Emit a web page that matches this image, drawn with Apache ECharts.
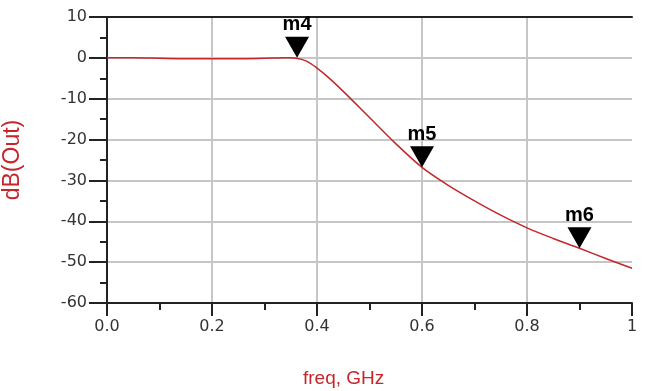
<!DOCTYPE html>
<html>
<head>
<meta charset="utf-8">
<script src="https://cdn.jsdelivr.net/npm/echarts@6/dist/echarts.min.js"></script>
<style>
  html, body { margin: 0; padding: 0; background: #fff; }
  #chart { width: 645px; height: 391px; }
</style>
</head>
<body>
<div id="chart"></div>
<script>
// frequency (GHz) and dB(Out)
const freq = [0.0, 0.05, 0.1, 0.15, 0.2, 0.25, 0.3, 0.34, 0.36, 0.38, 0.4, 0.42, 0.45, 0.5, 0.55, 0.6, 0.65, 0.7, 0.75, 0.8, 0.85, 0.9, 0.95, 1.0];
const dbOut = [0.0, 0.0, -0.1, -0.2, -0.2, -0.2, -0.1, 0.0, -0.1, -0.8, -2.5, -4.6, -8.2, -14.6, -21.0, -26.8, -31.2, -35.0, -38.5, -41.6, -44.2, -46.6, -49.1, -51.5];

// markers
const markerNames = ["m4", "m5", "m6"];
const markerFreq = [0.362, 0.6, 0.9];
const markerDb = [0.0, -26.8, -46.6];

const yTicks = [10, 0, -10, -20, -30, -40, -50, -60];

const chart = echarts.init(document.getElementById("chart"));

const red = "#c4262b";
const gridGray = "#c6c6c6";
const labelFont = "DejaVu Sans";

const option = {
  animation: false,
  backgroundColor: "#fff",
  title: {
    text: "freq, GHz",
    left: 298,
    top: 364,
    textStyle: { color: red, fontSize: 19, fontWeight: "normal", fontFamily: "Liberation Sans" },
  },
  grid: { left: 107, right: 13, top: 17, bottom: 88, outerBoundsMode: "none" },
  xAxis: [
    {
      type: "value",
      min: 0,
      max: 1,
      interval: 0.2,
      position: "bottom",
      axisLine: { show: true, onZero: false, lineStyle: { color: "#222", width: 2 } },
      axisTick: { show: true, length: 13, lineStyle: { color: "#222", width: 2 } },
      minorTick: { show: true, splitNumber: 2, length: 7, lineStyle: { color: "#222", width: 2 } },
      splitLine: { show: true, showMaxLine: false, lineStyle: { color: gridGray, width: 2 } },
      axisLabel: {
        margin: 16,
        color: "#333",
        fontSize: 16,
        fontFamily: labelFont,
        formatter: (v) => (v === 1 ? "1" : v.toFixed(1)),
      },
    },
    {
      type: "value",
      min: 0,
      max: 1,
      position: "top",
      axisLine: { show: true, onZero: false, lineStyle: { color: "#222", width: 2 } },
      axisTick: { show: false },
      axisLabel: { show: false },
      splitLine: { show: false },
    },
  ],
  yAxis: {
    type: "value",
    min: -60,
    max: 10,
    interval: 10,
    name: "dB(Out)",
    nameLocation: "middle",
    nameGap: 83,
    nameTextStyle: { color: red, fontSize: 23, fontFamily: "Liberation Sans" },
    axisLine: { show: true, onZero: false, lineStyle: { color: "#222", width: 2 } },
    axisTick: { show: true, length: 18, lineStyle: { color: "#222", width: 2 } },
    minorTick: { show: true, splitNumber: 2, length: 7, lineStyle: { color: "#222", width: 2 } },
    splitLine: {
      show: true,
      lineStyle: { color: gridGray, width: 2 },
    },
    axisLabel: {
      margin: 20,
      color: "#333",
      fontSize: 16,
      fontFamily: labelFont,
      customValues: yTicks,
    },
  },
  series: [
    {
      name: "dB(Out)",
      type: "line",
      data: freq.map((f, i) => [f, dbOut[i]]),
      smooth: 0.3,
      symbol: "none",
      lineStyle: { color: red, width: 1.5 },
      markPoint: {
        symbol: "triangle",
        symbolSize: [24, 21],
        symbolRotate: 180,
        symbolOffset: [0, "-50%"],
        itemStyle: { color: "#000" },
        label: {
          show: true,
          position: "top",
          distance: 2,
          color: "#000",
          fontSize: 20,
          fontWeight: "bold",
          fontFamily: "Liberation Sans",
          formatter: (p) => p.name,
        },
        data: markerNames.map((n, i) => ({ name: n, coord: [markerFreq[i], markerDb[i]] })),
      },
    },
  ],
};

chart.setOption(option);
</script>
</body>
</html>
